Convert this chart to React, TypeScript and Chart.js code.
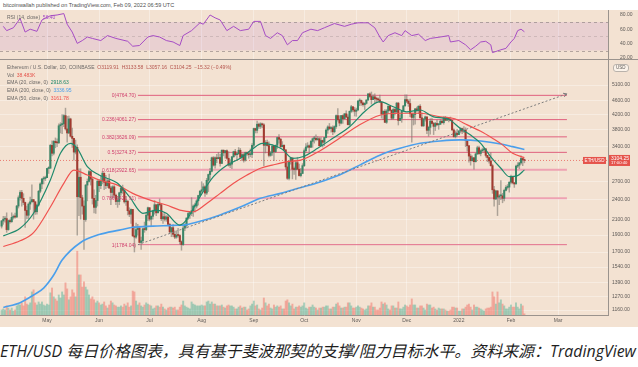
import React, { useEffect, useRef } from "react";
import { Chart, registerables } from "chart.js";

Chart.register(...registerables);

// ---------- DATA (days counted from 2021-05-01) ----------
const FIRST_DAY = -27; // 2021-04-04
const FIRST_OPEN = 2015;

const CLOSE = [
  // Apr 4-30
  2085,2110,2118,1970,2090,2075,2135,2150,2140,2300,2430,2515,2420,2355,2235,2165,2330,2365,2400,2365,2215,2315,2535,2660,2748,2757,2772,
  // May
  2945,2950,3430,3255,3520,3490,3485,3900,3930,3950,4170,3820,3720,4080,3640,3590,3280,3385,2445,2780,2430,2300,2105,2640,2705,2885,2745,2420,2280,2385,2710,
  // Jun
  2630,2710,2855,2690,2630,2715,2590,2515,2610,2470,2370,2370,2510,2590,2550,2365,2375,2230,2180,2250,1890,1875,1970,1990,1810,1830,1980,1970,2165,2275,
  // Jul
  2110,2150,2225,2320,2200,2325,2320,2115,2145,2110,2140,2040,1940,1995,1910,1875,1900,1895,1820,1785,1990,2025,2125,2190,2190,2230,2300,2300,2380,2465,2535,
  // Aug
  2560,2610,2505,2725,2830,2890,3160,3010,3160,3140,3165,3045,3320,3265,3310,3150,3010,3030,3180,3290,3225,3240,3320,3170,3225,3110,3270,3245,3225,3230,3430,
  // Sep
  3830,3785,3940,3885,3950,3925,3430,3495,3425,3210,3265,3410,3290,3430,3610,3570,3400,3430,3330,2975,2760,3080,3155,2930,2925,3060,2930,2810,2850,3000,
  // Oct
  3310,3390,3420,3385,3520,3580,3590,3560,3580,3420,3540,3500,3610,3790,3870,3830,3850,3750,3880,4170,4060,3970,4170,4085,4220,4130,3930,4290,4420,4330,4290,
  // Nov
  4325,4590,4605,4530,4480,4520,4620,4810,4730,4630,4720,4660,4645,4625,4560,4210,4290,3990,4300,4440,4320,4100,4340,4270,4525,4040,4095,4295,4445,4635,
  // Dec
  4585,4515,4220,4120,4200,4360,4310,4435,4110,3900,4080,4135,3785,3860,4020,3960,3885,3960,3925,3940,4020,3980,4110,4045,4100,4070,4040,3795,3630,3710,3680,
  // Jan
  3770,3830,3765,3790,3540,3420,3195,3100,3160,3080,3240,3375,3250,3310,3330,3350,3210,3165,3095,3000,2560,2410,2540,2440,2460,2460,2420,2550,2600,2605,2690,
  // Feb 1-9
  2790,2680,2660,2990,3010,3055,3145,3119.91,3104.25,
];

const HIGH = [
  2095,2150,2150,2200,2100,2110,2200,2170,2195,2310,2460,2545,2550,2495,2360,2300,2350,2440,2645,2400,2370,2330,2550,2680,2760,2790,2800,
  2950,2980,3450,3530,3540,3600,3580,3950,3980,4200,4200,4380,4150,4160,4100,3840,3590,3550,3440,2940,2940,2470,2380,2650,2750,2910,2890,2760,2560,2470,2720,
  2740,2800,2890,2860,2815,2740,2840,2620,2630,2630,2490,2450,2520,2620,2640,2560,2450,2385,2275,2260,2250,2010,2055,2040,2015,1875,1990,2070,2200,2285,
  2275,2155,2240,2385,2320,2350,2410,2330,2190,2190,2160,2170,2050,2000,2035,1955,1935,1985,1905,1830,2030,2045,2130,2215,2200,2430,2320,2345,2400,2470,2550,
  2700,2665,2630,2760,2840,2950,3175,3185,3180,3230,3275,3230,3330,3330,3320,3330,3290,3120,3190,3300,3340,3260,3380,3360,3250,3250,3280,3280,3280,3350,3470,
  3840,3840,4020,3970,3980,3970,3960,3540,3550,3510,3295,3440,3400,3440,3620,3680,3590,3515,3445,3330,3090,3100,3170,3160,2970,3110,3170,3030,2950,3040,
  3350,3470,3490,3440,3545,3600,3640,3675,3630,3610,3610,3550,3615,3820,3900,3960,3880,3900,3900,4190,4370,4170,4180,4190,4230,4300,4200,4300,4460,4420,4400,
  4380,4600,4660,4620,4560,4540,4630,4820,4840,4870,4780,4810,4710,4690,4770,4560,4300,4340,4340,4440,4450,4330,4370,4380,4550,4550,4190,4300,4460,4780,
  4780,4630,4650,4240,4240,4370,4410,4450,4480,4250,4090,4160,4135,3890,4090,4100,3990,3990,4050,3960,4060,4040,4140,4150,4130,4110,4130,4045,3820,3770,3810,
  3780,3850,3840,3880,3850,3545,3425,3240,3200,3165,3260,3410,3410,3330,3370,3370,3360,3210,3175,3270,3030,2620,2550,2550,2480,2720,2500,2570,2630,2650,2700,
  2820,2790,2690,3010,3060,3070,3200,3150,3133.58,
];

const LOW = [
  1990,2040,2070,1935,1960,2055,2065,2110,2125,2135,2270,2390,2300,2320,2000,2115,2115,2250,2360,2110,2175,2180,2300,2510,2580,2660,2720,
  2770,2850,2950,3200,3220,3375,3400,3470,3720,3700,3880,3790,3500,3700,3620,3380,3110,3240,1900,2160,2110,2180,1730,2080,2380,2690,2640,2330,2200,2190,2300,
  2530,2580,2660,2560,2580,2600,2580,2320,2420,2430,2320,2280,2320,2470,2500,2345,2310,2170,2145,2050,1885,1700,1860,1900,1810,1730,1810,1935,1955,2090,
  2085,2020,2110,2180,2160,2200,2300,2090,2050,2085,2080,2020,1920,1880,1880,1855,1860,1875,1790,1720,1775,1955,1990,2105,2120,2160,2150,2210,2270,2315,2440,
  2510,2560,2450,2480,2530,2730,2880,2990,2950,3060,3140,2990,3040,3200,3150,3130,2990,2960,2940,3170,3200,3120,3240,3150,3100,3070,3090,3210,3150,3180,3160,
  3385,3720,3720,3830,3830,3850,3000,3260,3410,3175,3190,3210,3100,3270,3360,3480,3360,3390,3310,2930,2740,2730,3030,2750,2830,2740,2930,2800,2785,2845,
  2980,3270,3370,3280,3380,3385,3480,3530,3545,3410,3420,3390,3420,3600,3710,3800,3740,3680,3720,3830,4020,3900,3950,3960,4080,4120,3920,3890,4260,4270,4160,
  4150,4320,4450,4460,4440,4340,4500,4610,4700,4500,4630,4530,4560,4580,4540,4100,4060,3980,3960,4240,4300,4060,4070,4190,4240,3920,4040,3990,4280,4440,
  4540,4430,4140,3500,3920,3940,4280,4220,4100,3880,3880,4020,3700,3640,3690,3950,3680,3780,3910,3810,3930,3970,3940,4030,4040,4000,4030,3780,3620,3600,3640,
  3680,3720,3700,3730,3400,3300,3070,3010,3090,2930,3070,3230,3230,3200,3280,3280,3170,3080,3050,2990,2500,2300,2400,2160,2320,2400,2350,2380,2540,2570,2520,
  2660,2660,2600,2660,2960,2940,3030,3000,3057.16,
];

// volume, thousands of ETH
const VOLUME = [
  165,200,165,300,230,165,230,130,165,300,360,330,400,300,600,360,330,400,760,830,400,330,430,360,430,330,300,
  360,330,730,890,600,530,460,660,560,760,660,1060,860,500,600,830,730,600,2100,1320,1320,920,1090,920,830,660,530,600,500,400,460,
  400,330,360,430,300,230,330,460,400,330,300,260,260,300,260,360,300,400,260,300,790,760,460,330,400,300,260,330,400,360,
  330,300,200,230,300,300,260,360,260,200,165,230,260,260,230,260,165,165,260,330,460,300,260,230,200,430,360,330,300,300,300,
  330,300,300,430,460,360,430,360,360,300,300,300,330,260,230,300,330,300,300,260,200,200,260,300,230,260,260,165,200,300,360,
  460,300,330,200,165,230,560,400,300,360,230,200,330,260,300,260,300,200,200,460,500,400,300,360,200,260,260,300,260,300,
  400,230,200,260,260,330,260,230,165,230,230,260,260,300,300,200,200,260,260,360,400,300,230,230,260,260,400,400,300,230,230,
  260,300,260,230,200,165,200,300,300,400,260,260,165,165,230,430,360,400,330,200,165,300,300,230,230,430,200,200,260,330,
  300,260,330,530,330,330,230,230,300,300,230,165,360,330,330,230,260,200,165,230,200,200,200,165,130,130,165,260,260,230,230,
  130,130,200,200,260,330,360,260,165,330,260,260,230,200,165,130,200,230,230,260,760,600,360,760,400,500,360,300,200,200,260,
  330,260,260,400,260,200,360,300,38.483,
];

// indicator values: [day, value]
const EMA20_POINTS = [
  [-26,1890],[-16,1987],[-8,2193],[2,2730],[8,3254],[14,3475],[18,3362],[24,2980],[31,2821],[42,2671],[49,2446],
  [57,2193],[65,2240],[71,2193],[79,2030],[83,2100],[91,2446],[99,2790],[107,3010],[115,3148],[122,3340],[128,3475],
  [134,3440],[140,3340],[146,3148],[152,3180],[161,3362],[170,3592],[180,3877],[190,4326],[198,4570],[206,4420],
  [214,4275],[222,4326],[230,4135],[238,4090],[246,3830],[252,3670],[258,3475],[264,3180],[270,2950],[275,2790],
  [280,2810],[284,2918.63],
];
const EMA50_POINTS = [
  [-26,1762],[-16,1830],[-8,1930],[2,2285],[10,2671],[16,2915],[24,2821],[31,2730],[42,2640],[51,2500],[61,2395],
  [71,2316],[79,2240],[87,2215],[95,2340],[103,2500],[111,2671],[119,2821],[127,2950],[134,3010],[143,3080],[151,3110],
  [162,3300],[174,3592],[186,3924],[198,4180],[210,4235],[222,4235],[234,4135],[242,4090],[250,3924],[258,3760],
  [265,3592],[271,3440],[277,3255],[284,3161.78],
];
const EMA200_POINTS = [
  [-26,1180],[-16,1218],[-8,1281],[-2,1341],[4,1461],[9,1612],[20,1810],[31,1906],[43,1963],[51,2000],[63,2015],
  [75,2025],[83,2035],[91,2080],[103,2170],[115,2285],[127,2420],[139,2500],[150,2590],[162,2690],[174,2821],
  [186,3010],[198,3215],[210,3362],[222,3475],[234,3530],[246,3555],[258,3530],[270,3460],[277,3400],[284,3336.95],
];
const RSI_POINTS = [
  [-26,64],[-24,58],[-20,62],[-16,75],[-13,56],[-10,60],[-6,57],[-3,73],[2,79],[6,80],[10,82],[12,67],[15,56],
  [18,40],[21,44],[24,49],[27,47],[32,44],[36,51],[41,47],[48,43],[51,36],[55,37],[60,49],[63,51],[67,49],[71,44],
  [75,42],[79,37],[81,51],[86,58],[91,69],[93,67],[97,80],[100,76],[103,73],[107,58],[111,64],[115,58],[120,60],
  [123,71],[127,71],[130,51],[133,47],[137,55],[140,51],[143,38],[146,44],[149,44],[152,55],[157,60],[161,58],
  [165,62],[171,68],[177,64],[181,67],[185,69],[191,69],[195,62],[198,49],[200,42],[203,51],[207,55],[211,51],
  [213,58],[217,51],[221,53],[225,44],[228,47],[234,49],[239,51],[240,42],[245,44],[249,38],[252,31],[255,36],
  [258,42],[261,43],[264,38],[265,27],[270,31],[273,33],[276,42],[278,47],[280,58],[282,60],[284,56.4],
];

const MONTH_DAYS = [0, 31, 61, 92, 123, 153, 184, 214, 245, 276, 304];
const MONTH_LABELS = ["May", "Jun", "Jul", "Aug", "Sep", "Oct", "Nov", "Dec", "2022", "Feb", "Mar"];
const PRICE_TICKS = [5100, 4600, 4200, 3800, 3400, 2700, 2400, 2100, 1900, 1700, 1540, 1390, 1270, 1160];
const RSI_TICKS = [20, 40, 60, 80];
const RSI_LEVELS = [70, 50, 30];

const FIB_RATIOS = ["0", "0.236", "0.382", "0.5", "0.618", "0.786", "1"];
const FIB_LEVELS = [4764.7, 4061.27, 3626.09, 3274.37, 2922.65, 2421.91, 1784.04];
const FIB_FROM_DAY = 54.1;
const FIB_TO_DAY = 309.3;
const TREND_DAYS = [54.1, 309.3];
const TREND_PRICES = [1784.04, 4810];
const LAST_PRICE = 3104.25;

// ---------- LAYOUT / STYLE ----------
const X_MIN = -27.96;
const X_MAX = 333.73;
const Y_MIN = 1123.2;
const Y_MAX = 6011.7;
const RSI_MIN = 18.03;
const RSI_MAX = 87.04;
const VOL_MAX = 8400;

const TAN = "#f3e2d2";
const FONT = '"Liberation Sans", Arial, sans-serif';
const AXIS_TEXT = "#5e5a57";
const AXIS_LINE = "#9a938d";
const GRID = "rgba(255,255,255,0.35)";
const UP = "#3b8667";
const DOWN = "#a13a2f";
const WICK = "rgba(125,120,112,0.6)";
const RED = "#e5534b";
const FIB_LINE = ["#e0607e", "#e0607e", "#e0607e", "#e0607e", "#eea2b2", "#eea2b2", "#e36f8c"];
const FIB_WIDTH = [1, 1, 1, 1, 2, 2, 1];
const FIB_TEXT = "#cf3d6b";

export default function App() {
  const rsiRef = useRef<HTMLCanvasElement | null>(null);
  const mainRef = useRef<HTMLCanvasElement | null>(null);

  useEffect(() => {
    document.body.style.margin = "0";
    const days = CLOSE.map((_, i) => FIRST_DAY + i);
    const opens = CLOSE.map((_, i) => (i === 0 ? FIRST_OPEN : CLOSE[i - 1]));
    const isUp = CLOSE.map((c, i) => c >= opens[i]);

    const monthTicks = (s: any) => {
      s.ticks = MONTH_DAYS.map((v) => ({ value: v }));
    };

    const overlay = {
      id: "overlay",
      afterDatasetsDraw(chart: any) {
        const { ctx, chartArea: a, scales } = chart;
        const x = scales.x;
        const y = scales.y;
        ctx.save();
        ctx.font = `5px ${FONT}`;
        ctx.textBaseline = "middle";
        ctx.textAlign = "right";
        ctx.fillStyle = FIB_TEXT;
        const lx = x.getPixelForValue(FIB_FROM_DAY) - 2;
        FIB_LEVELS.forEach((lv, i) => {
          ctx.fillText(`${FIB_RATIOS[i]}(${lv.toFixed(2)})`, lx, y.getPixelForValue(lv) + 0.5);
        });
        // arrow head of trend line
        const x1 = x.getPixelForValue(TREND_DAYS[0]);
        const y1 = y.getPixelForValue(TREND_PRICES[0]);
        const x2 = x.getPixelForValue(TREND_DAYS[1]);
        const y2 = y.getPixelForValue(TREND_PRICES[1]);
        const ang = Math.atan2(y2 - y1, x2 - x1);
        ctx.strokeStyle = "#7d7d7d";
        ctx.lineWidth = 1;
        ctx.beginPath();
        ctx.moveTo(x2 - 4 * Math.cos(ang - 0.5), y2 - 4 * Math.sin(ang - 0.5));
        ctx.lineTo(x2, y2);
        ctx.lineTo(x2 - 4 * Math.cos(ang + 0.5), y2 - 4 * Math.sin(ang + 0.5));
        ctx.stroke();
        // last price labels
        const py = y.getPixelForValue(LAST_PRICE);
        ctx.fillStyle = RED;
        ctx.fillRect(a.right - 25, py - 3.5, 23, 7);
        ctx.fillRect(a.right + 1, py - 5.5, 21, 11);
        ctx.fillStyle = "#ffffff";
        ctx.textAlign = "center";
        ctx.font = `4.5px ${FONT}`;
        ctx.fillText("ETH/USD", a.right - 13.5, py + 0.3);
        ctx.textAlign = "left";
        ctx.font = `5px ${FONT}`;
        ctx.fillText(LAST_PRICE.toFixed(2), a.right + 3, py - 2.2);
        ctx.font = `4.2px ${FONT}`;
        ctx.fillText("17:00:40", a.right + 3, py + 2.8);
        ctx.restore();
      },
    };

    const main = new Chart(mainRef.current as HTMLCanvasElement, {
      type: "bar",
      data: {
        datasets: [
          {
            type: "bar",
            label: "Vol",
            yAxisID: "yVol",
            data: days.map((d, i) => ({ x: d, y: VOLUME[i] ?? 0 })),
            backgroundColor: isUp.map((u) => (u ? "rgba(60,170,140,0.42)" : "rgba(240,100,90,0.45)")),
            barThickness: 1.3,
            grouped: false,
            order: 20,
          } as any,
          ...FIB_LEVELS.map(
            (lv, i) =>
              ({
                type: "line",
                label: `fib ${FIB_RATIOS[i]}`,
                yAxisID: "y",
                data: [
                  { x: FIB_FROM_DAY, y: lv },
                  { x: FIB_TO_DAY, y: lv },
                ],
                borderColor: FIB_LINE[i],
                borderWidth: FIB_WIDTH[i],
                pointRadius: 0,
                order: 15,
              }) as any
          ),
          {
            type: "line",
            label: "last",
            yAxisID: "y",
            data: [
              { x: X_MIN, y: LAST_PRICE },
              { x: X_MAX, y: LAST_PRICE },
            ],
            borderColor: "rgba(229,83,75,0.7)",
            borderWidth: 1,
            borderDash: [1, 2],
            pointRadius: 0,
            order: 14,
          } as any,
          {
            type: "bar",
            label: "wick",
            yAxisID: "y",
            data: days.map((d, i) => ({ x: d, y: [LOW[i], HIGH[i]] })),
            backgroundColor: WICK,
            barThickness: 0.8,
            grouped: false,
            order: 12,
          } as any,
          {
            type: "bar",
            label: "body",
            yAxisID: "y",
            data: days.map((d, i) => ({ x: d, y: [opens[i], CLOSE[i]] })),
            backgroundColor: isUp.map((u) => (u ? UP : DOWN)),
            barThickness: 1.4,
            minBarLength: 1,
            grouped: false,
            order: 11,
          } as any,
          {
            type: "line",
            label: "EMA 200",
            yAxisID: "y",
            data: EMA200_POINTS.map(([x, v]) => ({ x, y: v })),
            borderColor: "#4a9fec",
            borderWidth: 1.6,
            pointRadius: 0,
            cubicInterpolationMode: "monotone",
            order: 5,
          } as any,
          {
            type: "line",
            label: "EMA 50",
            yAxisID: "y",
            data: EMA50_POINTS.map(([x, v]) => ({ x, y: v })),
            borderColor: "#f0524f",
            borderWidth: 1.2,
            pointRadius: 0,
            cubicInterpolationMode: "monotone",
            order: 4,
          } as any,
          {
            type: "line",
            label: "EMA 20",
            yAxisID: "y",
            data: EMA20_POINTS.map(([x, v]) => ({ x, y: v })),
            borderColor: "#1e8a6c",
            borderWidth: 1.2,
            pointRadius: 0,
            cubicInterpolationMode: "monotone",
            order: 3,
          } as any,
          {
            type: "line",
            label: "trend",
            yAxisID: "y",
            data: TREND_DAYS.map((d, i) => ({ x: d, y: TREND_PRICES[i] })),
            borderColor: "#7d7d7d",
            borderWidth: 1,
            borderDash: [2, 2],
            pointRadius: 0,
            order: 2,
          } as any,
        ],
      },
      options: {
        animation: false,
        responsive: false,
        devicePixelRatio: 1,
        layout: { padding: 0 },
        plugins: { legend: { display: false }, tooltip: { enabled: false } },
        scales: {
          x: {
            type: "linear",
            min: X_MIN,
            max: X_MAX,
            offset: false,
            grid: { color: GRID, drawTicks: false, offset: false },
            border: { display: true, color: AXIS_LINE },
            ticks: {
              font: { family: FONT, size: 5 },
              color: AXIS_TEXT,
              padding: 3,
              maxRotation: 0,
              autoSkip: false,
              callback: (v: any) => {
                const i = MONTH_DAYS.indexOf(Number(v));
                return i >= 0 ? MONTH_LABELS[i] : "";
              },
            },
            afterBuildTicks: monthTicks,
            afterFit: (s: any) => {
              s.height = 12;
              s.paddingLeft = 0;
              s.paddingRight = 0;
            },
          },
          y: {
            type: "logarithmic",
            position: "right",
            min: Y_MIN,
            max: Y_MAX,
            bounds: "data",
            grid: { color: GRID, drawTicks: false },
            border: { display: true, color: AXIS_LINE },
            ticks: {
              font: { family: FONT, size: 5 },
              color: AXIS_TEXT,
              padding: 4,
              autoSkip: false,
              callback: (v: any) => Number(v).toFixed(2),
            },
            afterBuildTicks: (s: any) => {
              s.ticks = PRICE_TICKS.map((v) => ({ value: v }));
            },
            afterFit: (s: any) => {
              s.width = 30;
              s.paddingTop = 0;
              s.paddingBottom = 0;
            },
          },
          yVol: { type: "linear", display: false, min: 0, max: VOL_MAX },
        },
      } as any,
      plugins: [overlay],
    });

    const rsiBand = {
      id: "rsiBand",
      beforeDatasetsDraw(chart: any) {
        const { ctx, chartArea: a, scales } = chart;
        const y = scales.y;
        const top = y.getPixelForValue(RSI_LEVELS[0]);
        const bot = y.getPixelForValue(RSI_LEVELS[2]);
        ctx.save();
        ctx.fillStyle = "rgba(178,96,205,0.14)";
        ctx.fillRect(a.left, top, a.right - a.left, bot - top);
        ctx.strokeStyle = "rgba(125,115,115,0.55)";
        ctx.lineWidth = 1;
        ctx.setLineDash([3, 3]);
        RSI_LEVELS.forEach((lv, i) => {
          const py = Math.round(y.getPixelForValue(lv)) + 0.5;
          ctx.globalAlpha = i === 1 ? 0.45 : 1;
          ctx.beginPath();
          ctx.moveTo(a.left, py);
          ctx.lineTo(a.right, py);
          ctx.stroke();
        });
        ctx.restore();
      },
    };

    const rsi = new Chart(rsiRef.current as HTMLCanvasElement, {
      type: "line",
      data: {
        datasets: [
          {
            label: "RSI",
            data: RSI_POINTS.map(([x, v]) => ({ x, y: v })),
            borderColor: "#a54cc4",
            borderWidth: 1,
            pointRadius: 0,
            tension: 0,
          },
        ],
      },
      options: {
        animation: false,
        responsive: false,
        devicePixelRatio: 1,
        layout: { padding: 0 },
        plugins: { legend: { display: false }, tooltip: { enabled: false } },
        scales: {
          x: {
            type: "linear",
            min: X_MIN,
            max: X_MAX,
            grid: { color: GRID, drawTicks: false },
            border: { display: false },
            ticks: { display: false },
            afterBuildTicks: monthTicks,
            afterFit: (s: any) => {
              s.height = 0;
              s.paddingLeft = 0;
              s.paddingRight = 0;
            },
          },
          y: {
            type: "linear",
            position: "right",
            min: RSI_MIN,
            max: RSI_MAX,
            grid: { display: false },
            border: { display: true, color: AXIS_LINE },
            ticks: {
              font: { family: FONT, size: 5 },
              color: AXIS_TEXT,
              padding: 4,
              callback: (v: any) => Number(v).toFixed(2),
            },
            afterBuildTicks: (s: any) => {
              s.ticks = RSI_TICKS.map((v) => ({ value: v }));
            },
            afterFit: (s: any) => {
              s.width = 30;
              s.paddingTop = 0;
              s.paddingBottom = 0;
            },
          },
        },
      } as any,
      plugins: [rsiBand],
    });

    return () => {
      main.destroy();
      rsi.destroy();
    };
  }, []);

  const small: React.CSSProperties = {
    position: "absolute",
    fontFamily: FONT,
    fontSize: "5px",
    lineHeight: "6px",
    whiteSpace: "nowrap",
    color: "#6b6866",
  };

  return (
    <div style={{ position: "fixed", left: 0, top: 0, width: 638, height: 367, background: "#ffffff", overflow: "hidden" }}>
      <div style={{ position: "absolute", left: 0, top: 10, width: 638, height: 317, background: TAN }} />
      <div style={{ ...small, left: 3, top: 1.5, fontSize: "5.5px", color: "#4f4f4f" }}>
        bitcoinwallah published on TradingView.com, Feb 09, 2022 06:59 UTC
      </div>
      <canvas ref={rsiRef} width={638} height={49} style={{ position: "absolute", left: 0, top: 10 }} />
      <div style={{ position: "absolute", left: 0, top: 59, width: 638, height: 1, background: AXIS_LINE }} />
      <canvas ref={mainRef} width={638} height={267} style={{ position: "absolute", left: 0, top: 60 }} />

      <div style={{ ...small, left: 7, top: 13.7 }}>
        RSI (14, close)&nbsp; <span style={{ color: "#a54cc4" }}>56.40</span>
      </div>
      <div style={{ ...small, left: 7, top: 63.7 }}>
        Ethereum / U.S. Dollar, 1D, COINBASE&nbsp;&nbsp;
        <span style={{ color: "#b5554d" }}>O3119.91&nbsp; H3133.58&nbsp; L3057.16&nbsp; C3104.25&nbsp; −15.32 (−0.49%)</span>
      </div>
      <div style={{ ...small, left: 7, top: 72 }}>
        Vol&nbsp; <span style={{ color: RED }}>38.483K</span>
      </div>
      <div style={{ ...small, left: 7, top: 79.3 }}>
        EMA (20, close, 0)&nbsp; <span style={{ color: "#1e8a6c" }}>2918.63</span>
      </div>
      <div style={{ ...small, left: 7, top: 87 }}>
        EMA (200, close, 0)&nbsp; <span style={{ color: "#4a9fec" }}>3336.95</span>
      </div>
      <div style={{ ...small, left: 7, top: 95.3 }}>
        EMA (50, close, 0)&nbsp; <span style={{ color: "#f0524f" }}>3161.78</span>
      </div>
      <div
        style={{
          ...small,
          left: 613,
          top: 64,
          fontSize: "4.5px",
          lineHeight: "6px",
          padding: "0 2px",
          border: "0.6px solid #b9b2ab",
          borderRadius: 3,
          background: "#fbf3ea",
          color: "#5e5a57",
        }}
      >
        USD
      </div>
      <div
        style={{
          position: "absolute",
          left: 0,
          top: 340,
          fontFamily: '"Open Sans", "Noto Sans CJK SC", sans-serif',
          fontStyle: "italic",
          fontSize: "15.95px",
          lineHeight: "22px",
          color: "#1f1f1f",
          whiteSpace: "nowrap",
        }}
      >
        ETH/USD 每日价格图表，具有基于斐波那契的支撑/阻力目标水平。资料来源：TradingView
      </div>
    </div>
  );
}
